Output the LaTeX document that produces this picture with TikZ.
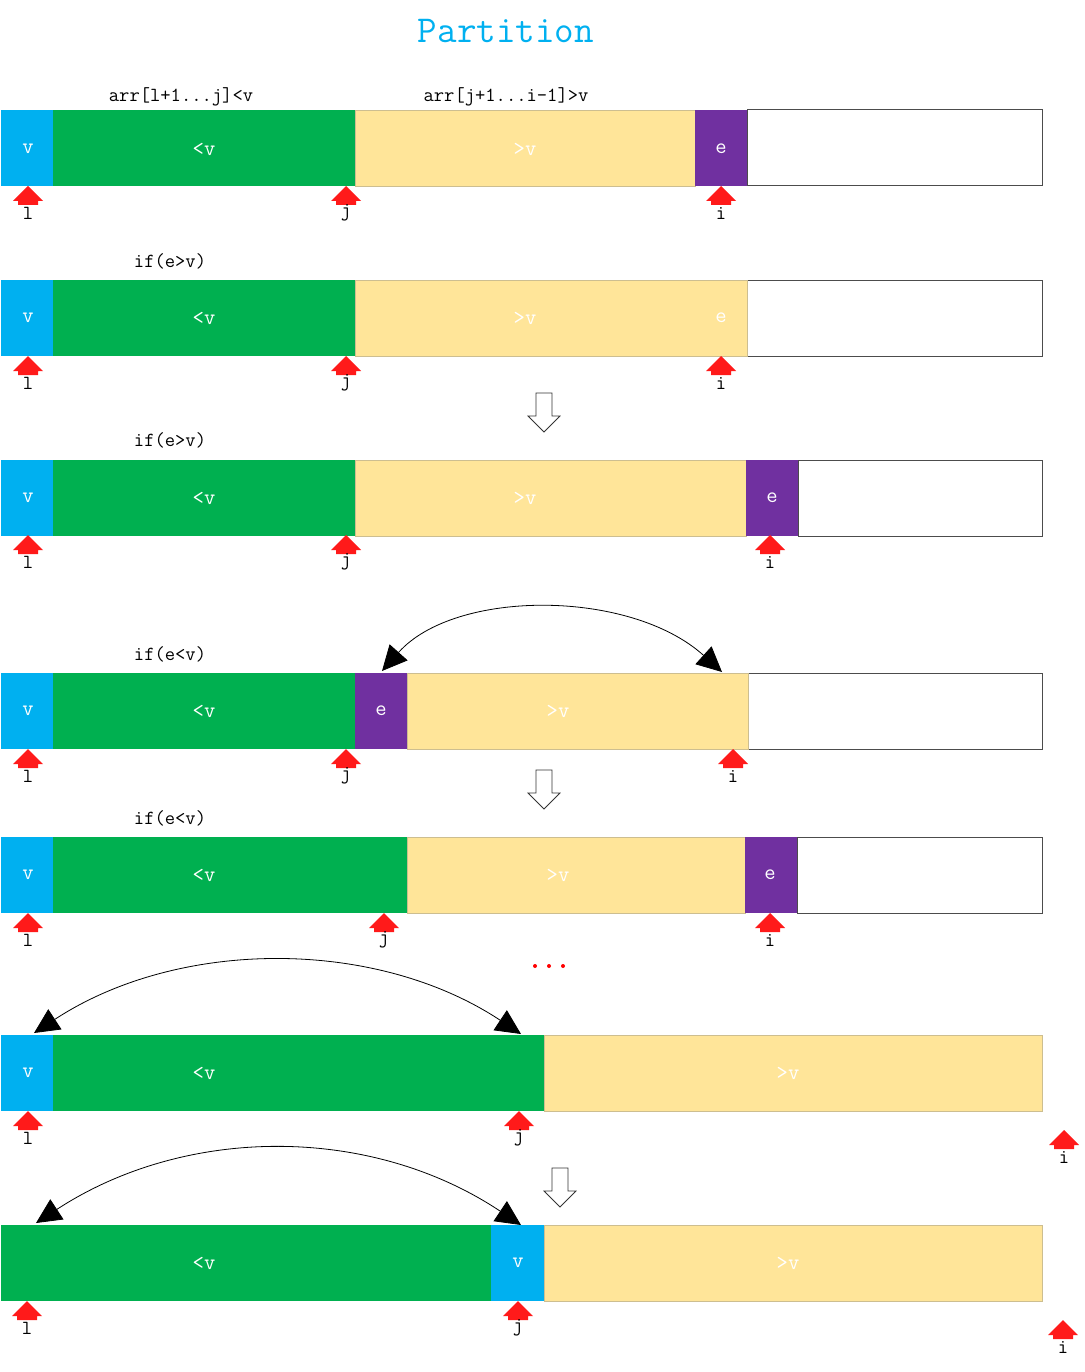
\documentclass[tikz,border=0pt]{standalone}
\usetikzlibrary{arrows.meta}
\definecolor{cblue}{HTML}{00B0F0}
\definecolor{cgreen}{HTML}{00B050}
\definecolor{cyellow}{HTML}{FFE599}
\definecolor{cyedge}{HTML}{CDBE90}
\definecolor{cpurple}{HTML}{7030A0}
\definecolor{pred}{HTML}{FF1A1A}
\tikzset{
  cell/.style={inner sep=0pt, outer sep=0pt, anchor=north west, minimum height=76pt},
  cv/.style={cell, fill=cblue},
  cg/.style={cell, fill=cgreen},
  cy/.style={cell, fill=cyellow, draw=cyedge, line width=0.8pt},
  cp/.style={cell, fill=cpurple},
  cw/.style={cell, draw=black!70, line width=1pt},
  ctxt/.style={inner sep=0pt, text=white, font=\ttfamily\fontsize{22}{22}\selectfont},
  lbl/.style={inner sep=0pt, font=\ttfamily\fontsize{20}{20}\selectfont, text=black},
  ptrlbl/.style={inner sep=0pt, font=\ttfamily\fontsize{20}{20}\selectfont, text=black},
  hollow/.style={draw=black!80, fill=white, line width=0.8pt, line join=miter},
  swaparc/.style={draw=black, line width=0.8pt, {Triangle[length=25pt,width=24pt]}-{Triangle[length=25pt,width=24pt]}},
}
\newcommand\cellbox[5]{\node[#1, minimum width={(#4-#3)*1pt}] (#2) at (#3,#5) {};}
\newcommand\ctext[4]{\node[ctxt] (#1) at (#2,#3) {#4};}
\newcommand\ptr[4]{%
  \fill[pred] (#2,#3) -- ++(15,15) -- ++(-5,0) -- ++(0,4) -- ++(-20,0) -- ++(0,-4) -- ++(-5,0) -- cycle;
  \node[ptrlbl] (#1) at (#2,#3+27) {#4};}
\newcommand\downarr[2]{%
  \draw[hollow] (#1-8,#2) -- (#1+8,#2) -- (#1+8,#2+23) -- (#1+16,#2+23) -- (#1,#2+39) -- (#1-16,#2+23) -- (#1-8,#2+23) -- cycle;}
\begin{document}
\begin{tikzpicture}[x=1pt,y=-1pt]
\useasboundingbox (0,0) rectangle (1084,1372);
\node[inner sep=0pt, text=cblue, font=\ttfamily\fontsize{38}{38}\selectfont] (title) at (506,31) {Partition};
% row 1
\node[lbl] (lab1a) at (181,97) {arr[l+1...j]<v};
\node[lbl] (lab1b) at (506,97) {arr[j+1...i-1]>v};
\cellbox{cw}{r1w}{747}{1042}{110}
\cellbox{cv}{r1v}{1}{53}{110}
\cellbox{cg}{r1g}{53}{355}{110}
\cellbox{cy}{r1y}{355}{695}{110}
\cellbox{cp}{r1e}{695}{747}{110}
\ctext{t1v}{28}{149}{v}
\ctext{t1g}{204}{149}{<v}
\ctext{t1y}{525}{149}{>v}
\ctext{t1e}{721}{149}{e}
\ptr{r1l}{28}{186}{l}
\ptr{r1j}{346}{186}{j}
\ptr{r1i}{721}{186}{i}
% row 2
\node[lbl] (lab2) at (170,261) {if(e>v)};
\cellbox{cw}{r2w}{747}{1042}{280}
\cellbox{cv}{r2v}{1}{53}{280}
\cellbox{cg}{r2g}{53}{355}{280}
\cellbox{cy}{r2y}{355}{747}{280}
\ctext{t2v}{28}{318}{v}
\ctext{t2g}{204}{318}{<v}
\ctext{t2y}{525}{318}{>v}
\ctext{t2e}{721}{318}{e}
\ptr{r2l}{28}{356}{l}
\ptr{r2j}{346}{356}{j}
\ptr{r2i}{721}{356}{i}
\downarr{544}{393}
% row 3
\node[lbl] (lab3) at (170,440) {if(e>v)};
\cellbox{cw}{r3w}{798}{1042}{460}
\cellbox{cv}{r3v}{1}{53}{460}
\cellbox{cg}{r3g}{53}{355}{460}
\cellbox{cy}{r3y}{355}{746}{460}
\cellbox{cp}{r3e}{746}{798}{460}
\ctext{t3v}{28}{498}{v}
\ctext{t3g}{204}{498}{<v}
\ctext{t3y}{525}{498}{>v}
\ctext{t3e}{772}{498}{e}
\ptr{r3l}{28}{535}{l}
\ptr{r3j}{346}{535}{j}
\ptr{r3i}{770}{535}{i}
% row 4
\node[lbl] (lab4) at (170,654) {if(e<v)};
\cellbox{cw}{r4w}{748}{1042}{673}
\cellbox{cv}{r4v}{1}{53}{673}
\cellbox{cg}{r4g}{53}{355}{673}
\cellbox{cp}{r4e}{355}{407}{673}
\cellbox{cy}{r4y}{407}{748}{673}
\ctext{t4v}{28}{711}{v}
\ctext{t4g}{204}{711}{<v}
\ctext{t4e}{381}{711}{e}
\ctext{t4y}{558}{711}{>v}
\ptr{r4l}{28}{749}{l}
\ptr{r4j}{346}{749}{j}
\ptr{r4i}{733}{749}{i}
\coordinate (a4l) at (382,671);
\coordinate (a4r) at (722,672);
\draw[swaparc] (a4l) .. controls (455,589) and (630,589) .. (a4r);
\downarr{544}{770}
% row 5
\node[lbl] (lab5) at (170,818) {if(e<v)};
\cellbox{cw}{r5w}{797}{1042}{837}
\cellbox{cv}{r5v}{1}{53}{837}
\cellbox{cg}{r5g}{53}{407}{837}
\cellbox{cy}{r5y}{407}{745}{837}
\cellbox{cp}{r5e}{745}{797}{837}
\ctext{t5v}{28}{875}{v}
\ctext{t5g}{204}{875}{<v}
\ctext{t5y}{558}{875}{>v}
\ctext{t5e}{770}{875}{e}
\ptr{r5l}{28}{913}{l}
\ptr{r5j}{384}{913}{j}
\ptr{r5i}{770}{913}{i}
\foreach \dx in {535,549,563} \fill[red] (\dx,966) circle (2);
% row 6
\cellbox{cv}{r6v}{1}{53}{1035}
\cellbox{cg}{r6g}{53}{544}{1035}
\cellbox{cy}{r6y}{544}{1042}{1035}
\ctext{t6v}{28}{1073}{v}
\ctext{t6g}{204}{1073}{<v}
\ctext{t6y}{788}{1073}{>v}
\ptr{r6l}{28}{1111}{l}
\ptr{r6j}{519}{1111}{j}
\ptr{r6i}{1064}{1130}{i}
\coordinate (a6l) at (34,1033);
\coordinate (a6r) at (521,1034);
\draw[swaparc] (a6l) .. controls (179,938) and (376,938) .. (a6r);
\downarr{560}{1168}
% row 7
\cellbox{cg}{r7g}{1}{491}{1225}
\cellbox{cv}{r7v}{491}{544}{1225}
\cellbox{cy}{r7y}{544}{1042}{1225}
\ctext{t7g}{204}{1263}{<v}
\ctext{t7v}{518}{1263}{v}
\ctext{t7y}{788}{1263}{>v}
\ptr{r7l}{27}{1301}{l}
\ptr{r7j}{518}{1301}{j}
\ptr{r7i}{1063}{1320}{i}
\coordinate (a7l) at (36,1223);
\coordinate (a7r) at (521,1225);
\draw[swaparc] (a7l) .. controls (186,1125) and (371,1125) .. (a7r);
\end{tikzpicture}
\end{document}
